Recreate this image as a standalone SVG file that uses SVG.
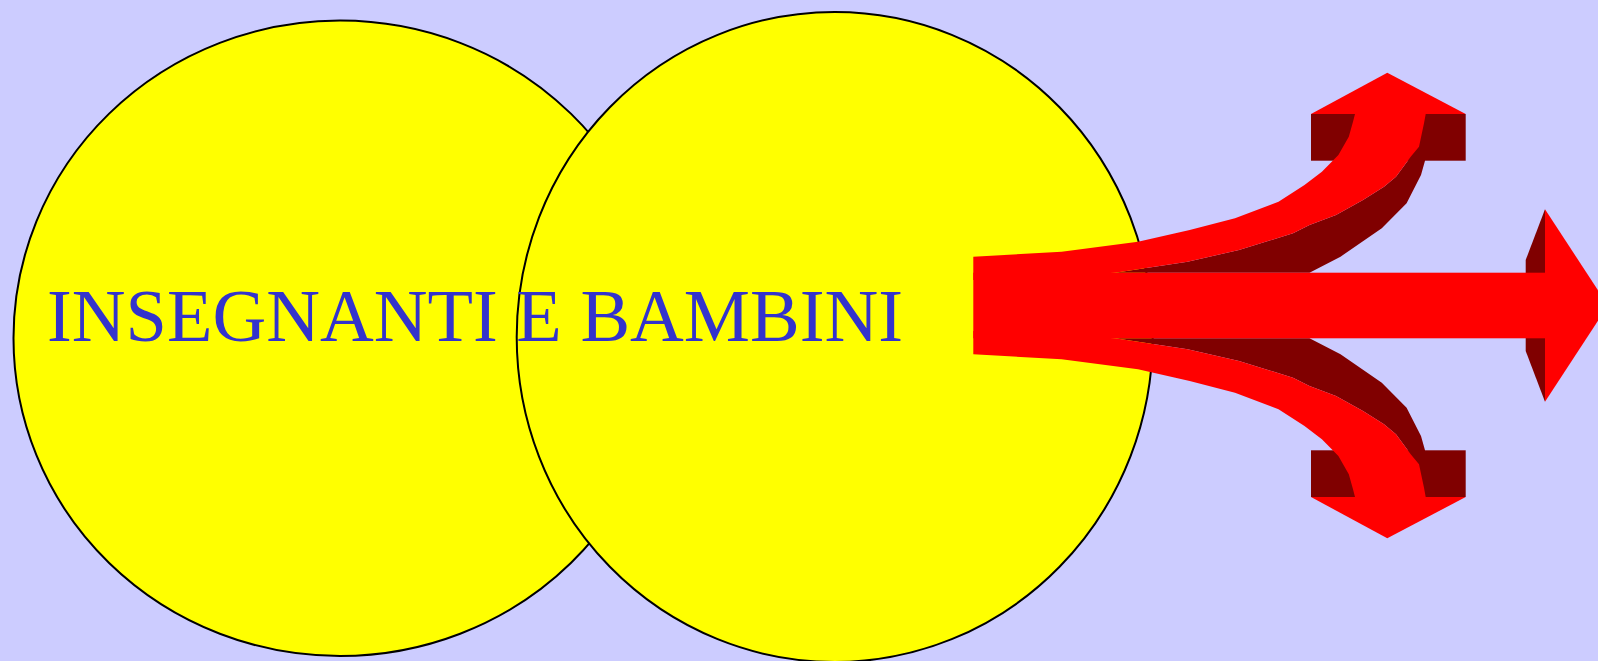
<svg xmlns="http://www.w3.org/2000/svg" width="1598" height="661" viewBox="0 0 1598 661">
<style>
.bub{fill:#ffff00;stroke:#000;stroke-width:2}
.red{fill:#ff0000}
.dark{fill:#800000}
.lbl{font-family:"Liberation Serif","Times New Roman",serif;font-size:74px;fill:#3333cc}
</style>
<defs>
<g id="branch">
<rect class="dark" x="1311" y="114" width="154.7" height="46.7"/>
<polygon class="dark" points="1425.7,114 1425,160.7 1421,175 1406.6,203.3 1381.8,228.3 1340.5,256.7 1309.5,272.7 1115,272.7 1187.6,261.7 1239,250 1293,233.3 1309.5,225 1336,215 1363,200 1384,186.7 1396,176.7 1410.7,156.7 1419,146.7 1424,123.3"/>
<polygon class="red" points="973.3,256.7 1061.6,251.7 1138,241.7 1189.7,230 1235,218.3 1278.5,201.7 1304.5,185 1321.9,171.7 1338.4,155 1348.8,136.7 1353,121.7 1355,114 1425.7,114 1424,123.3 1419,146.7 1410.7,156.7 1396,176.7 1384,186.7 1363,200 1336,215 1309.5,225 1293,233.3 1239,250 1187.6,261.7 1115,272.7 973.3,280"/>
<polygon class="red" points="1311,114 1387.3,72.7 1465.7,114"/>
</g>
</defs>
<rect width="1598" height="661" fill="#ccccff"/>
<g id="node-insegnanti">
<ellipse class="bub" cx="340" cy="338.3" rx="326.5" ry="317.7"/>
</g>
<g id="node-bambini">
<ellipse class="bub" cx="834.7" cy="337" rx="318" ry="325"/>
</g>
<g id="label">
<text class="lbl" x="47" y="340.7" textLength="856" lengthAdjust="spacingAndGlyphs">INSEGNANTI E BAMBINI</text>
</g>
<g id="connectors">
<use href="#branch"/>
<use href="#branch" transform="matrix(1 0 0 -1 0 611)"/>
<polygon class="dark" points="1545,209.3 1525.7,260 1525.7,351 1545,401.7"/>
<rect class="red" x="973.3" y="272.7" width="572" height="65.6"/>
<polygon class="red" points="1545,209.3 1608,305.5 1545,401.7"/>
</g>
</svg>
